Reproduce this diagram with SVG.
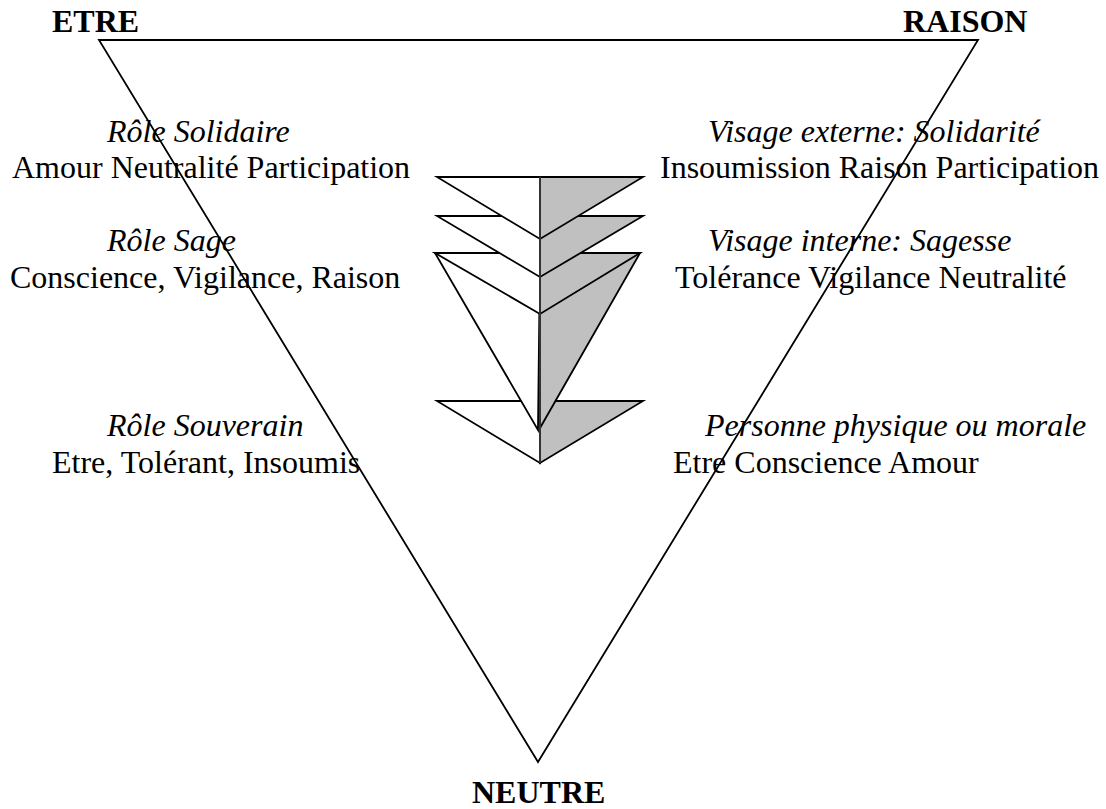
<svg xmlns="http://www.w3.org/2000/svg" width="1106" height="809" viewBox="0 0 1106 809">
<style>
.t{font-family:"Liberation Serif","Times New Roman",serif;font-size:32px;fill:#000}
.b{font-weight:bold}
.i{font-style:italic}
.w{fill:#fff;stroke:#000;stroke-width:1.8;stroke-linejoin:miter}
.g{fill:#c0c0c0;stroke:#000;stroke-width:1.8;stroke-linejoin:miter}
.c{fill:none;stroke:#333;stroke-width:2}
</style>
<rect width="1106" height="809" fill="#fff"/>
<g id="triangle">
<polygon points="99,40 978,40 538,762" fill="none" stroke="#000" stroke-width="1.8"/>
</g>
<g id="arrows">
<g id="arrow-bottom">
<polygon class="w" points="437,401 540,401 540,463"/>
<polygon class="g" points="540,401 643,401 540,463"/>
</g>
<g id="arrow-big">
<polygon class="w" points="435,253 540,253 538,430"/>
<polygon class="g" points="540,253 640,253 540,428"/>
<polygon class="w" points="435,253 540,253 540,314"/>
<polygon class="g" points="540,253 640,253 540,314"/>
</g>
<g id="arrow-2">
<polygon class="w" points="437,216 540,216 540,277"/>
<polygon class="g" points="540,216 643,216 540,277"/>
</g>
<g id="arrow-1">
<polygon class="w" points="437,177 540,177 540,239"/>
<polygon class="g" points="540,177 643,177 540,239"/>
</g>
<line class="c" x1="540" y1="177" x2="540" y2="463"/>
</g>
<g id="labels">
<text class="t b" x="52" y="32">ETRE</text>
<text class="t b" x="903" y="32">RAISON</text>
<text class="t b" x="472" y="803">NEUTRE</text>
<text class="t i" x="107" y="142">Rôle Solidaire</text>
<text class="t" x="12" y="178">Amour Neutralité Participation</text>
<text class="t i" x="708" y="142">Visage externe: Solidarité</text>
<text class="t" x="660" y="178">Insoumission Raison Participation</text>
<text class="t i" x="107" y="251">Rôle Sage</text>
<text class="t" x="10" y="288">Conscience, Vigilance, Raison</text>
<text class="t i" x="708" y="251">Visage interne: Sagesse</text>
<text class="t" x="675" y="288">Tolérance Vigilance Neutralité</text>
<text class="t i" x="107" y="436">Rôle Souverain</text>
<text class="t" x="52" y="473">Etre, Tolérant, Insoumis</text>
<text class="t i" x="705" y="436">Personne physique ou morale</text>
<text class="t" x="673" y="473">Etre Conscience Amour</text>
</g>
</svg>
